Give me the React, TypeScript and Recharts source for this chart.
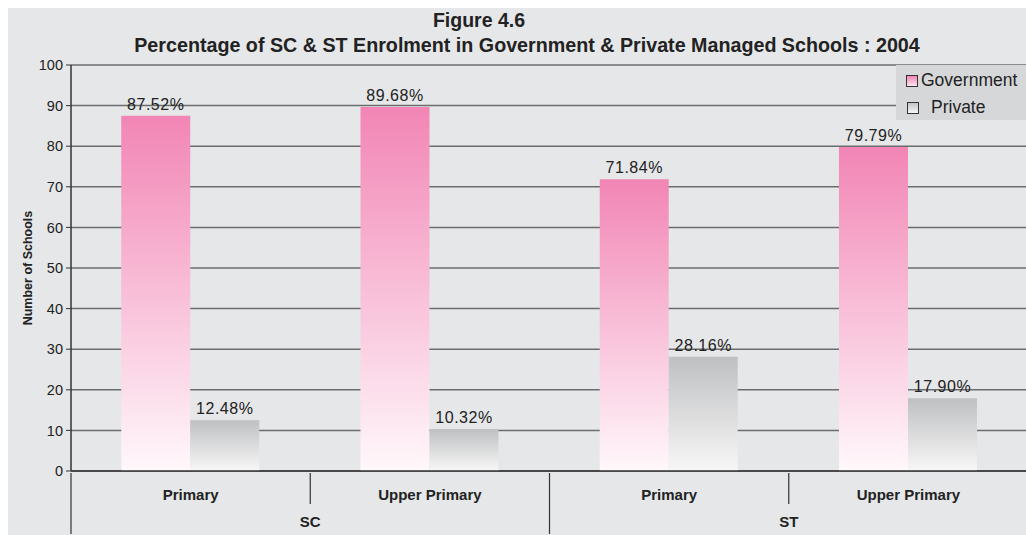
import { BarChart, Bar, XAxis, YAxis, CartesianGrid, LabelList } from "recharts";

const levels = ["Primary", "Upper Primary", "Primary", "Upper Primary"];
const groups = ["SC", "SC", "ST", "ST"];
const government = [87.52, 89.68, 71.84, 79.79];
const privateShare = [12.48, 10.32, 28.16, 17.9];
const yTicks = [0, 10, 20, 30, 40, 50, 60, 70, 80, 90, 100];

const data = levels.map((level, i) => ({
  level,
  group: groups[i],
  government: government[i],
  private: privateShare[i],
}));

const font = "'Liberation Sans', Arial, Helvetica, sans-serif";
const bg = "#e6e7e9";

const LevelTick = (props: any) => {
  const { x, y, payload, index } = props;
  const half = payload?.offset ?? 119.5;
  const left = x - half;
  const long = index % 2 === 0;
  return (
    <g>
      <line x1={left} y1={y} x2={left} y2={y + (long ? 61 : 31)} stroke="#333" strokeWidth={1.2} />
      <text x={x} y={y + 27} textAnchor="middle" fontSize={15} fontWeight="bold" fill="#222" fontFamily={font}>
        {payload.value}
      </text>
    </g>
  );
};

const GroupTick = (props: any) => {
  const { x, y, payload } = props;
  return (
    <text x={x} y={y + 24} textAnchor="middle" fontSize={15} fontWeight="bold" fill="#222" fontFamily={font}>
      {payload.value}
    </text>
  );
};

const LegendBox = () => (
  <div
    style={{
      position: "absolute",
      left: 888,
      top: 57,
      width: 130,
      height: 55,
      background: "#d6d7d9",
      fontFamily: font,
      fontSize: 17.5,
      color: "#222",
    }}
  >
    <div style={{ position: "absolute", left: 10, top: 5, display: "flex", alignItems: "center" }}>
      <span
        style={{
          width: 10,
          height: 10,
          border: "1px solid #333",
          background: "linear-gradient(#f285b5, #fbe3ee)",
          marginRight: 3,
        }}
      />
      Government
    </div>
    <div style={{ position: "absolute", left: 11, top: 32, display: "flex", alignItems: "center" }}>
      <span
        style={{
          width: 10,
          height: 10,
          border: "1px solid #333",
          background: "linear-gradient(#c4c5c7, #f5f5f5)",
          marginRight: 12,
        }}
      />
      Private
    </div>
  </div>
);

const labelStyle = { fontSize: 16, letterSpacing: 0.5, fill: "#222", fontFamily: font };

export default function App() {
  return (
    <div
      style={{
        position: "fixed",
        left: 8,
        top: 8,
        width: 1018,
        height: 527,
        overflow: "hidden",
        background: bg,
        fontFamily: font,
      }}
    >
      <BarChart
        width={1020}
        height={527}
        data={data}
        margin={{ top: 57, right: 0, left: 0, bottom: 0 }}
        barCategoryGap="21%"
        barGap={0}
        style={{ position: "absolute", left: 0, top: 0 }}
      >
        <defs>
          <linearGradient id="govGrad" x1="0" y1="0" x2="0" y2="1">
            <stop offset="0%" stopColor="#f285b5" />
            <stop offset="100%" stopColor="#fff8fb" />
          </linearGradient>
          <linearGradient id="privGrad" x1="0" y1="0" x2="0" y2="1">
            <stop offset="0%" stopColor="#bfc0c2" />
            <stop offset="100%" stopColor="#f7f7f7" />
          </linearGradient>
        </defs>
        <CartesianGrid vertical={false} stroke="#6b6c6e" strokeWidth={1.5} />
        <XAxis
          dataKey="level"
          height={30}
          tick={<LevelTick />}
          tickLine={false}
          tickSize={0}
          axisLine={{ stroke: "#333", strokeWidth: 1.5 }}
          interval={0}
        />
        <XAxis
          xAxisId="group"
          dataKey="group"
          allowDuplicatedCategory={false}
          height={34}
          tick={<GroupTick />}
          tickLine={false}
          tickSize={0}
          axisLine={false}
          interval={0}
        />
        <YAxis
          width={63}
          domain={[0, 100]}
          ticks={yTicks}
          interval={0}
          tick={{ fontSize: 14.5, fill: "#222", fontFamily: font }}
          tickSize={5}
          tickMargin={3}
          tickLine={{ stroke: "#333" }}
          axisLine={{ stroke: "#333", strokeWidth: 1.5 }}
          label={{
            value: "Number of Schools",
            angle: -90,
            position: "insideLeft",
            offset: 20,
            style: { textAnchor: "middle", fontSize: 12.5, fontWeight: "bold", fill: "#222", fontFamily: font },
          }}
        />
        <Bar dataKey="government" name="Government" fill="url(#govGrad)" isAnimationActive={false}>
          <LabelList
            dataKey="government"
            position="top"
            offset={6}
            formatter={(v: any) => `${Number(v).toFixed(2)}%`}
            style={labelStyle}
          />
        </Bar>
        <Bar dataKey="private" name="Private" fill="url(#privGrad)" isAnimationActive={false}>
          <LabelList
            dataKey="private"
            position="top"
            offset={6}
            formatter={(v: any) => `${Number(v).toFixed(2)}%`}
            style={labelStyle}
          />
        </Bar>
      </BarChart>
      <div
        style={{
          position: "absolute",
          left: 0,
          width: 942,
          top: 1,
          textAlign: "center",
          fontSize: 19.5,
          fontWeight: "bold",
          color: "#222",
        }}
      >
        Figure 4.6
      </div>
      <div
        style={{
          position: "absolute",
          left: 0,
          width: 1038,
          top: 26,
          textAlign: "center",
          fontSize: 19.7,
          fontWeight: "bold",
          color: "#222",
          whiteSpace: "nowrap",
        }}
      >
        Percentage of SC &amp; ST Enrolment in Government &amp; Private Managed Schools : 2004
      </div>
      <LegendBox />
    </div>
  );
}
